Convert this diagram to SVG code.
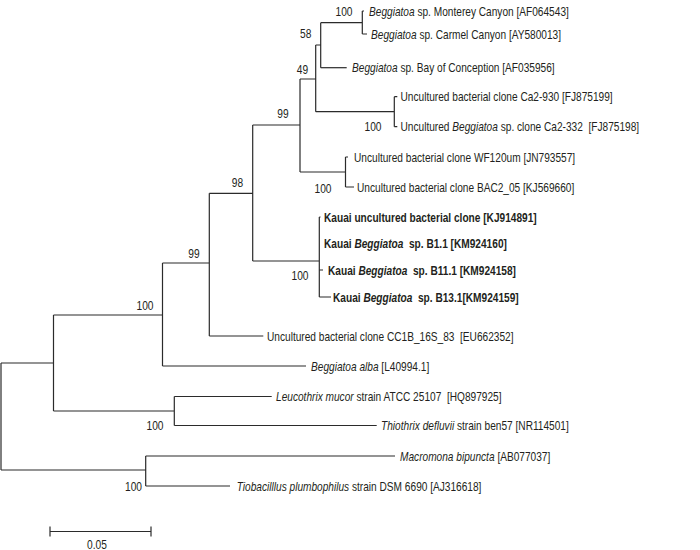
<svg xmlns="http://www.w3.org/2000/svg" width="700" height="550" viewBox="0 0 700 550">
<style>
.t{font-family:"Liberation Sans",Arial,sans-serif;font-size:13px;fill:#231f20;white-space:pre}
.i{font-style:italic}
.b{font-weight:bold}
.s{font-family:"Liberation Sans",Arial,sans-serif;font-size:12px;fill:#231f20;text-anchor:middle}
.br{fill:none;stroke:#2b2b2b;stroke-width:1.2}
</style>
<rect width="700" height="550" fill="#ffffff"/>
<g id="branches" class="br">
<path d="M1 363 V470"/>
<path d="M1 363 H53.5 M53.5 315 V411"/>
<path d="M53.5 315 H162.5 M162.5 263 V366"/>
<path d="M162.5 366 H306"/>
<path d="M162.5 263 H209.3 M209.3 193.3 V336"/>
<path d="M209.3 336 H263.3"/>
<path d="M209.3 193.3 H252.7 M252.7 125 V261"/>
<path d="M252.7 125 H300 M300 79 V172"/>
<path d="M300 79 H315.7 M315.7 45 V111.7"/>
<path d="M315.7 45 H320.7 M320.7 22.7 V67.7"/>
<path d="M320.7 22.7 H362.3 M362.3 11 V34"/>
<path d="M362.3 11 H364 M362.3 34 H367"/>
<path d="M320.7 67.7 H346.7"/>
<path d="M315.7 111.7 H394.3 M394.3 96.7 V126.7"/>
<path d="M394.3 96.7 H397.3 M394.3 126.7 H397.3"/>
<path d="M300 172 H345.5 M345.5 157 V187"/>
<path d="M345.5 157 H348 M345.5 187 H354"/>
<path d="M252.7 261 H319.3 M319.3 217 V297"/>
<path d="M319.3 217 H320.5 M319.3 270 H323 M319.3 297 H331"/>
<path d="M53.5 411 H174.3 M174.3 396.5 V425.5"/>
<path d="M174.3 396.5 H271.7 M174.3 425.5 H376.7"/>
<path d="M1 470 H145.7 M145.7 456 V486"/>
<path d="M145.7 456 H395 M145.7 486 H230"/>
</g>
<g id="leaf-AF064543"><text class="t" transform="translate(369,15.5) scale(0.78,1)"><tspan class="i">Beggiatoa</tspan> sp. Monterey Canyon [AF064543]</text></g>
<g id="leaf-AY580013"><text class="t" transform="translate(371,38.5) scale(0.78,1)"><tspan class="i">Beggiatoa</tspan> sp. Carmel Canyon [AY580013]</text></g>
<g id="leaf-AF035956"><text class="t" transform="translate(352,72) scale(0.78,1)"><tspan class="i">Beggiatoa</tspan> sp. Bay of Conception [AF035956]</text></g>
<g id="leaf-FJ875199"><text class="t" transform="translate(400.5,101) scale(0.78,1)">Uncultured bacterial clone Ca2-930 [FJ875199]</text></g>
<g id="leaf-FJ875198"><text class="t" transform="translate(400.5,131) scale(0.78,1)">Uncultured <tspan class="i">Beggiatoa</tspan> sp. clone Ca2-332  [FJ875198]</text></g>
<g id="leaf-JN793557"><text class="t" transform="translate(354,161.5) scale(0.78,1)">Uncultured bacterial clone WF120um [JN793557]</text></g>
<g id="leaf-KJ569660"><text class="t" transform="translate(357,191.5) scale(0.78,1)">Uncultured bacterial clone BAC2_05 [KJ569660]</text></g>
<g id="leaf-KJ914891"><text class="t b" transform="translate(324,221.5) scale(0.78,1)">Kauai uncultured bacterial clone [KJ914891]</text></g>
<g id="leaf-KM924160"><text class="t b" transform="translate(324,247.5) scale(0.78,1)">Kauai <tspan class="i">Beggiatoa</tspan>  sp. B1.1 [KM924160]</text></g>
<g id="leaf-KM924158"><text class="t b" transform="translate(328,274.5) scale(0.78,1)">Kauai <tspan class="i">Beggiatoa</tspan>  sp. B11.1 [KM924158]</text></g>
<g id="leaf-KM924159"><text class="t b" transform="translate(333,301.5) scale(0.78,1)">Kauai <tspan class="i">Beggiatoa</tspan>  sp. B13.1[KM924159]</text></g>
<g id="leaf-EU662352"><text class="t" transform="translate(267,340.5) scale(0.78,1)">Uncultured bacterial clone CC1B_16S_83  [EU662352]</text></g>
<g id="leaf-L40994"><text class="t" transform="translate(311,370.5) scale(0.78,1)"><tspan class="i">Beggiatoa alba</tspan> [L40994.1]</text></g>
<g id="leaf-HQ897925"><text class="t" transform="translate(276,401) scale(0.78,1)"><tspan class="i">Leucothrix mucor</tspan> strain ATCC 25107  [HQ897925]</text></g>
<g id="leaf-NR114501"><text class="t" transform="translate(381,430) scale(0.78,1)"><tspan class="i">Thiothrix defluvii</tspan> strain ben57 [NR114501]</text></g>
<g id="leaf-AB077037"><text class="t" transform="translate(400,460.5) scale(0.78,1)"><tspan class="i">Macromona bipuncta</tspan> [AB077037]</text></g>
<g id="leaf-AJ316618"><text class="t" transform="translate(236.7,490.5) scale(0.78,1)"><tspan class="i">Tiobacilllus plumbophilus</tspan> strain DSM 6690 [AJ316618]</text></g>
<g id="support">
<text class="s" transform="translate(344,16) scale(0.85,1)">100</text>
<text class="s" transform="translate(305.7,37.5) scale(0.85,1)">58</text>
<text class="s" transform="translate(302.5,74) scale(0.85,1)">49</text>
<text class="s" transform="translate(283,117.5) scale(0.85,1)">99</text>
<text class="s" transform="translate(373,131) scale(0.85,1)">100</text>
<text class="s" transform="translate(323,192.5) scale(0.85,1)">100</text>
<text class="s" transform="translate(237.5,187) scale(0.85,1)">98</text>
<text class="s" transform="translate(194,257.5) scale(0.85,1)">99</text>
<text class="s" transform="translate(300,279.5) scale(0.85,1)">100</text>
<text class="s" transform="translate(145,309.5) scale(0.85,1)">100</text>
<text class="s" transform="translate(155,429.5) scale(0.85,1)">100</text>
<text class="s" transform="translate(133.5,490.5) scale(0.85,1)">100</text>
</g>
<g id="scale-bar">
<path class="br" d="M50 531.5 H151 M50 526.5 V536.5 M151 526.5 V536.5"/>
<text class="s" transform="translate(97,549) scale(0.85,1)">0.05</text>
</g>
</svg>
